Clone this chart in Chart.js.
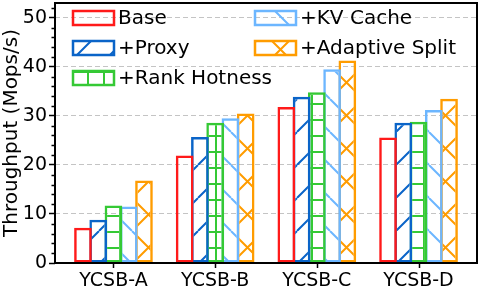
<!DOCTYPE html>
<html>
<head>
<meta charset="utf-8">
<script src="https://cdn.jsdelivr.net/npm/chart.js@4.4.1/dist/chart.umd.min.js"></script>
<style>
  html, body { margin: 0; padding: 0; background: #fff; }
  #wrap { width: 489px; height: 293px; }
</style>
</head>
<body>
<div id="wrap"><canvas id="chart" width="489" height="293"></canvas></div>
<script>
// Data (Mops/s)
const categories = ['YCSB-A', 'YCSB-B', 'YCSB-C', 'YCSB-D'];
const base = [7.2, 21.9, 31.8, 25.6];
const proxy = [8.8, 25.7, 33.9, 28.6];
const rankHotness = [11.7, 28.6, 34.8, 28.8];
const kvCache = [11.5, 29.5, 39.5, 31.2];
const adaptiveSplit = [16.8, 30.5, 41.3, 33.5];
const yTicks = [0, 10, 20, 30, 40, 50];
const yMinorTicks = [2, 4, 6, 8, 12, 14, 16, 18, 22, 24, 26, 28, 32, 34, 36, 38, 42, 44, 46, 48, 52];

const FONT = 'DejaVu Sans';

// Series styles
const series = [
    { label: 'Base',             data: base,          color: '#ff1a1a', hatch: null },
    { label: '+Proxy',           data: proxy,         color: '#0a64c8', hatch: '/' },
    { label: '+Rank Hotness',    data: rankHotness,   color: '#35c935', hatch: '+' },
    { label: '+KV Cache',        data: kvCache,       color: '#6cb6ff', hatch: '\\' },
    { label: '+Adaptive Split',  data: adaptiveSplit, color: '#ff9c00', hatch: 'x' }
];

// Hatch patterns (transparent background, like matplotlib)
function makeHatch(color, kind) {
    if (!kind) return 'rgba(0,0,0,0)';
    const s = kind === '+' ? 16 : 33;
    const c = document.createElement('canvas');
    c.width = s;
    c.height = s;
    const g = c.getContext('2d');
    g.strokeStyle = color;
    g.lineWidth = 2;
    g.beginPath();
    if (kind === '/' || kind === 'x') {
        [-s, 0, s].forEach(o => { g.moveTo(o, s); g.lineTo(o + s, 0); });
    }
    if (kind === '\\' || kind === 'x') {
        [-s, 0, s].forEach(o => { g.moveTo(o, 0); g.lineTo(o + s, s); });
    }
    if (kind === '+') {
        g.moveTo(0, s / 2); g.lineTo(s, s / 2);
        g.moveTo(s / 2, 0); g.lineTo(s / 2, s);
    }
    g.stroke();
    return g.createPattern(c, 'repeat');
}

series.forEach(s => { s.pattern = makeHatch(s.color, s.hatch); });

// No extra label padding: the plot box is fixed like the original figure
function noPadding(scale) {
    scale.paddingTop = 0;
    scale.paddingBottom = 0;
    scale.paddingLeft = 0;
    scale.paddingRight = 0;
}

// Frame, tick marks and the two-column legend
const extrasPlugin = {
    id: 'extras',
    afterDatasetsDraw(chart) {
        const ctx = chart.ctx;
        const a = chart.chartArea;
        const x = chart.scales.x;
        const y = chart.scales.y;
        ctx.save();
        ctx.strokeStyle = '#000';
        ctx.lineWidth = 1.5;
        ctx.beginPath();
        // minor y ticks
        yMinorTicks.forEach(v => {
            const py = Math.round(y.getPixelForValue(v)) + 0.5;
            ctx.moveTo(a.left - 3.5, py);
            ctx.lineTo(a.left, py);
        });
        // x ticks under each group
        categories.forEach((_, i) => {
            const px = Math.round(x.getPixelForValue(i)) + 0.5;
            ctx.moveTo(px, a.bottom);
            ctx.lineTo(px, a.bottom + 5);
        });
        ctx.stroke();
        // frame
        ctx.lineWidth = 2;
        ctx.strokeRect(a.left, a.top, a.right - a.left, a.bottom - a.top);
        ctx.restore();
    },
    afterDraw(chart) {
        const ctx = chart.ctx;
        const cols = [73, 255];
        const rows = [18, 48, 78];
        ctx.save();
        ctx.font = '20px "' + FONT + '"';
        ctx.textBaseline = 'middle';
        ctx.fillStyle = '#000';
        series.forEach((s, i) => {
            const x = i < 3 ? cols[0] : cols[1];
            const cy = i < 3 ? rows[i] : rows[i - 3];
            const w = 41, h = 14;
            ctx.fillStyle = s.pattern;
            ctx.fillRect(x, cy - h / 2, w, h);
            ctx.strokeStyle = s.color;
            ctx.lineWidth = 2.5;
            ctx.strokeRect(x, cy - h / 2, w, h);
            ctx.fillStyle = '#000';
            ctx.fillText(s.label, x + w + 4, cy + 1);
        });
        ctx.restore();
    }
};

const datasets = series.map(s => ({
    label: s.label,
    data: s.data.map((v, i) => ({ x: i, y: v })),
    backgroundColor: s.pattern,
    borderColor: s.color,
    borderWidth: 2.5,
    borderSkipped: false,
    categoryPercentage: 0.75,
    barPercentage: 1.16
}));

new Chart(document.getElementById('chart'), {
    type: 'bar',
    data: { datasets: datasets },
    options: {
        responsive: false,
        animation: false,
        events: [],
        layout: { padding: { top: 3, right: 12, left: 0, bottom: 0 } },
        plugins: {
            legend: { display: false },
            tooltip: { enabled: false }
        },
        scales: {
            x: {
                type: 'linear',
                offset: false,
                min: -0.575,
                max: 3.575,
                afterBuildTicks: scale => {
                    scale.ticks = categories.map((_, i) => ({ value: i }));
                },
                afterFit: scale => { scale.height = 30; noPadding(scale); },
                grid: {
                    display: false,
                    drawTicks: false
                },
                border: { display: false },
                ticks: {
                    autoSkip: false,
                    maxRotation: 0,
                    padding: 7,
                    color: '#000',
                    font: { family: FONT, size: 19 },
                    callback: value => categories[value]
                }
            },
            y: {
                min: 0,
                max: 53,
                afterBuildTicks: scale => {
                    scale.ticks = yTicks.map(v => ({ value: v }));
                },
                afterFit: scale => { scale.width = 55; noPadding(scale); },
                grid: {
                    color: ctx => (ctx.tick && ctx.tick.value === 0) ? 'rgba(0,0,0,0)' : '#c4c4c4',
                    lineWidth: 1,
                    tickLength: 6,
                    tickColor: '#000',
                    tickWidth: 1.5
                },
                border: { display: false, dash: [5, 3] },
                ticks: {
                    padding: 2,
                    color: '#000',
                    font: { family: FONT, size: 19 }
                },
                title: {
                    display: true,
                    text: 'Throughput (Mops/s)',
                    color: '#000',
                    padding: { top: 0, bottom: 0 },
                    font: { family: FONT, size: 20 }
                }
            }
        }
    },
    plugins: [extrasPlugin]
});
</script>
</body>
</html>
